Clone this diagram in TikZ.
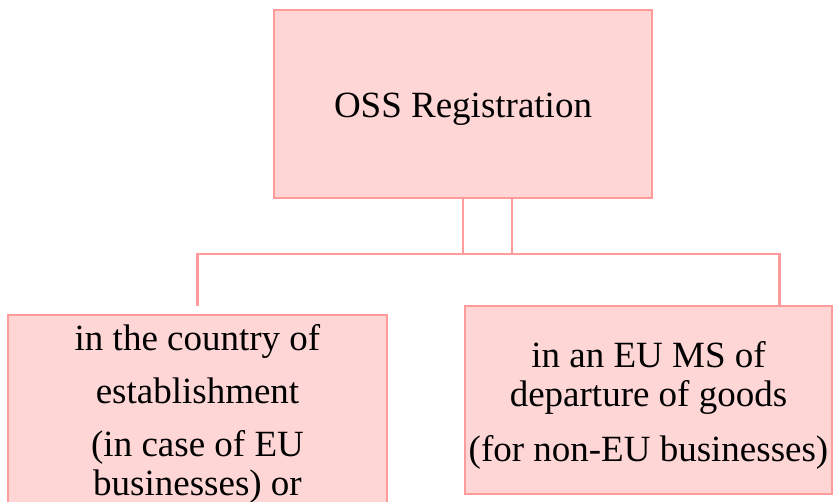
\documentclass[tikz,border=0pt]{standalone}
\usepackage{fontspec}
\setmainfont{Liberation Serif}
\usepackage{tikz}
\usetikzlibrary{positioning,calc}
\definecolor{ossfill}{RGB}{255,214,214}
\definecolor{ossline}{RGB}{255,155,155}
\tikzset{
  ossbox/.style={draw=ossline, fill=ossfill, line width=2.5pt,
                 inner sep=0pt, minimum width=#1, minimum height=188pt},
  ossbox/.default=378pt,
  osstext/.style={align=center, inner sep=0pt,
                  font=\fontsize{37}{39}\selectfont},
  link/.style={draw=ossline, line width=2.5pt},
}
\begin{document}
\begin{tikzpicture}[x=1pt,y=-1pt]
  \clip (0,0) rectangle (833,502);
  \useasboundingbox (0,0) rectangle (833,502);
  %% boxes
  \node[ossbox] (reg) at (463,104) {};
  \node[ossbox=379pt] (est) at (197.5,409) {};
  \node[ossbox=367pt] (dep) at (648.5,400) {};
  %% texts
  \node[osstext] (regtext) at ([yshift=-5pt]reg.center) {OSS Registration};
  \node[osstext] (esttext) at ([yshift=-5pt]est.center)
    {in the country of\\[14pt]establishment\\[14pt](in case of EU\\businesses) or};
  \node[osstext] (deptext) at ([yshift=-5pt]dep.center)
    {in an EU MS of\\departure of goods\\[16pt](for non-EU businesses)};
  %% connectors
  \coordinate (depin) at ([xshift=-54pt]dep.north east);
  \coordinate (bus) at ($(reg.south)+(0,55)$);
  \draw[link] ([yshift=8pt]est.north) |- (bus) -| (depin);
  \draw[link] (reg.south) -- (bus);
  \draw[link] ([xshift=49pt]reg.south) -- ([xshift=49pt]bus);
\end{tikzpicture}
\end{document}
